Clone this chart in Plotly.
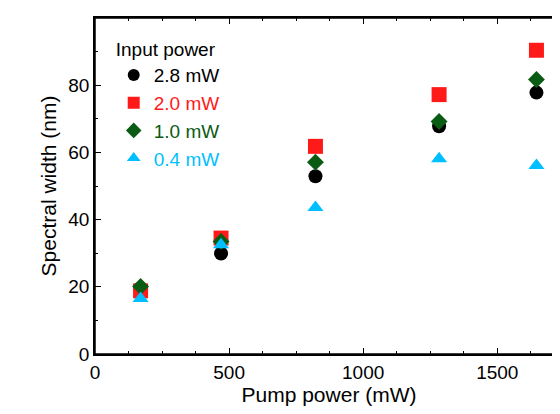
import plotly.graph_objects as go

pump = [170, 470, 822, 1283, 1646]
w28 = [19.0, 29.9, 52.9, 67.8, 77.8]
w20 = [18.8, 34.5, 61.8, 77.2, 90.4]
w10 = [20.1, 33.5, 57.1, 69.2, 81.7]
w04 = [16.5, 32.5, 43.6, 58.1, 56.1]
names = ["2.8 mW", "2.0 mW", "1.0 mW", "0.4 mW"]
colors = ["black", "#ff1a1a", "#0a5c14", "#00bfff"]
symbols = ["circle", "square", "diamond", "triangle-up"]
sizes = [14, 15, 13, 14]

fig = go.Figure()
for ys, n, c, s, sz in zip([w28, w20, w10, w04], names, colors, symbols, sizes):
    fig.add_trace(go.Scatter(x=pump, y=ys, mode="markers", cliponaxis=False,
                             name=f"<span style='color:{c}'>{n}</span>",
                             marker=dict(color=c, symbol=s, size=sz, line=dict(width=0))))

ax = dict(showgrid=False, zeroline=False, showline=True, linecolor="black", linewidth=1.5,
          mirror="allticks", ticks="inside", ticklen=6, tickcolor="black", automargin=False,
          tickfont=dict(size=19, color="black"))
fig.update_layout(
    width=560, height=414, paper_bgcolor="white", plot_bgcolor="white",
    margin=dict(l=87, r=5, t=10, b=68),
    font=dict(family="Liberation Sans, Arial", color="black"),
    xaxis=dict(ax, range=[0, 1745], dtick=500, minor=dict(dtick=125, ticks="inside", ticklen=3, tickcolor="black"),
               title=dict(text="Pump power (mW)", font=dict(size=21), standoff=6)),
    yaxis=dict(ax, range=[0, 100], dtick=20, minor=dict(dtick=10, ticks="inside", ticklen=3, tickcolor="black"),
               title=dict(text="Spectral width (nm)", font=dict(size=21), standoff=6)),
    legend=dict(x=0.04, y=0.96, xanchor="left", yanchor="top", bgcolor="rgba(0,0,0,0)",
                title=dict(text="Input power", font=dict(size=19)),
                font=dict(size=19), tracegroupgap=0, itemsizing="constant"),
    shapes=[dict(type="rect", xref="paper", yref="paper", x0=0, x1=1, y0=0, y1=1,
                 line=dict(color="black", width=1.5), layer="above")],
)
fig.write_html("out.html")
